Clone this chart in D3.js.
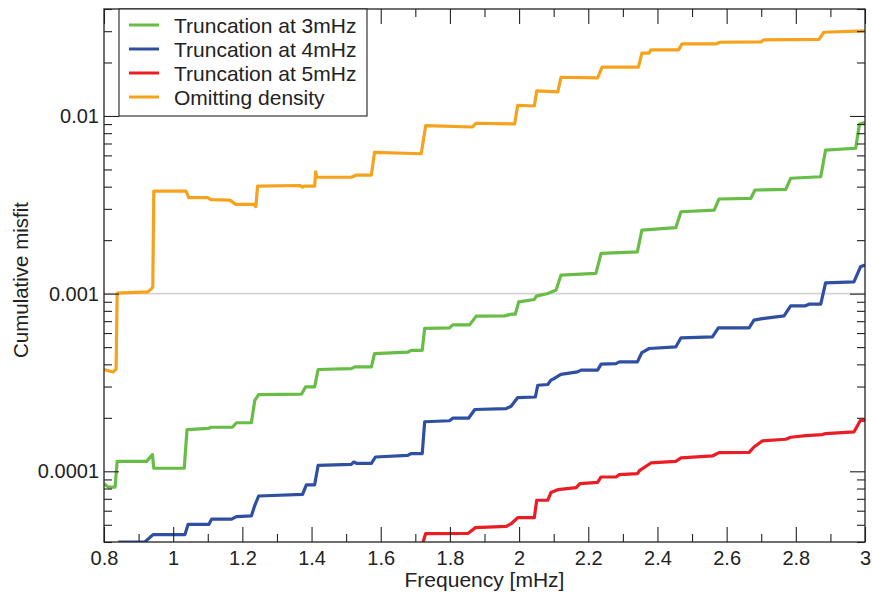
<!DOCTYPE html>
<html>
<head>
<meta charset="utf-8">
<script src="https://cdn.jsdelivr.net/npm/d3@7"></script>
<style>
  body { margin: 0; background: #fff; }
  svg { display: block; font-family: "Liberation Sans", Arial, Helvetica, sans-serif; }
</style>
</head>
<body>
<script>
// [frequency (mHz), cumulative misfit]
const trunc3mHz = [
  [0.800, 8.52e-5], [0.812, 8.15e-5], [0.832, 8.15e-5], [0.838, 1.138e-4], [0.923, 1.138e-4],
  [0.940, 1.242e-4], [0.944, 1.04e-4], [1.032, 1.04e-4], [1.040, 1.718e-4], [1.103, 1.746e-4],
  [1.109, 1.77e-4], [1.171, 1.77e-4], [1.183, 1.876e-4], [1.226, 1.876e-4], [1.236, 2.51e-4],
  [1.247, 2.70e-4], [1.371, 2.72e-4], [1.383, 2.99e-4], [1.409, 2.99e-4], [1.419, 3.74e-4],
  [1.515, 3.78e-4], [1.525, 3.87e-4], [1.573, 3.87e-4], [1.582, 4.60e-4], [1.678, 4.68e-4],
  [1.688, 4.79e-4], [1.720, 4.79e-4], [1.727, 6.37e-4], [1.799, 6.42e-4], [1.808, 6.67e-4],
  [1.857, 6.67e-4], [1.876, 7.47e-4], [1.958, 7.50e-4], [1.977, 7.66e-4], [1.989, 7.66e-4],
  [1.999, 8.99e-4], [2.044, 9.27e-4], [2.050, 9.68e-4], [2.083, 1.0025e-3], [2.107, 1.047e-3],
  [2.121, 1.271e-3], [2.222, 1.299e-3], [2.237, 1.684e-3], [2.342, 1.72e-3], [2.355, 2.28e-3],
  [2.453, 2.35e-3], [2.468, 2.89e-3], [2.564, 2.95e-3], [2.578, 3.41e-3], [2.670, 3.44e-3],
  [2.682, 3.83e-3], [2.771, 3.86e-3], [2.785, 4.46e-3], [2.872, 4.55e-3], [2.886, 6.43e-3],
  [2.973, 6.58e-3], [2.984, 9.01e-3], [3.000, 9.17e-3]
];

const trunc4mHz = [
  [0.841, 4.0e-5], [0.918, 4.0e-5], [0.933, 4.25e-5], [0.942, 4.40e-5], [1.034, 4.40e-5],
  [1.043, 5.02e-5], [1.103, 5.02e-5], [1.111, 5.38e-5], [1.169, 5.38e-5], [1.183, 5.56e-5],
  [1.226, 5.61e-5], [1.236, 6.43e-5], [1.247, 7.26e-5], [1.374, 7.42e-5], [1.385, 8.39e-5],
  [1.409, 8.39e-5], [1.419, 1.081e-4], [1.515, 1.095e-4], [1.522, 1.128e-4], [1.530, 1.109e-4],
  [1.573, 1.109e-4], [1.585, 1.204e-4], [1.678, 1.23e-4], [1.688, 1.259e-4], [1.720, 1.259e-4],
  [1.727, 1.90e-4], [1.799, 1.925e-4], [1.808, 1.99e-4], [1.854, 1.99e-4], [1.872, 2.227e-4],
  [1.963, 2.255e-4], [1.977, 2.323e-4], [1.996, 2.60e-4], [2.047, 2.62e-4], [2.054, 3.05e-4],
  [2.083, 3.08e-4], [2.092, 3.26e-4], [2.102, 3.33e-4], [2.121, 3.51e-4], [2.169, 3.63e-4],
  [2.179, 3.71e-4], [2.227, 3.71e-4], [2.237, 4.01e-4], [2.280, 4.04e-4], [2.290, 4.13e-4],
  [2.342, 4.13e-4], [2.355, 4.66e-4], [2.376, 4.91e-4], [2.453, 5.01e-4], [2.468, 5.64e-4],
  [2.559, 5.71e-4], [2.576, 6.42e-4], [2.665, 6.42e-4], [2.679, 7.09e-4], [2.703, 7.23e-4],
  [2.766, 7.50e-4], [2.785, 8.54e-4], [2.828, 8.54e-4], [2.838, 8.72e-4], [2.872, 8.72e-4],
  [2.886, 1.150e-3], [2.968, 1.166e-3], [2.987, 1.416e-3], [3.000, 1.447e-3]
];

const trunc5mHz = [
  [1.722, 3.98e-5], [1.730, 4.46e-5], [1.852, 4.47e-5], [1.874, 4.82e-5], [1.963, 4.90e-5],
  [1.977, 5.07e-5], [1.996, 5.48e-5], [2.044, 5.48e-5], [2.051, 6.87e-5], [2.083, 6.87e-5],
  [2.092, 7.59e-5], [2.112, 7.88e-5], [2.165, 8.09e-5], [2.176, 8.52e-5], [2.227, 8.67e-5],
  [2.237, 9.29e-5], [2.280, 9.29e-5], [2.290, 9.58e-5], [2.342, 9.70e-5], [2.349, 1.013e-4],
  [2.381, 1.114e-4], [2.453, 1.138e-4], [2.468, 1.189e-4], [2.559, 1.22e-4], [2.578, 1.275e-4],
  [2.665, 1.278e-4], [2.679, 1.37e-4], [2.703, 1.482e-4], [2.771, 1.515e-4], [2.785, 1.554e-4],
  [2.829, 1.589e-4], [2.877, 1.61e-4], [2.886, 1.631e-4], [2.968, 1.665e-4], [2.987, 1.937e-4],
  [3.000, 1.937e-4]
];

const omitDensity = [
  [0.800, 3.74e-4], [0.826, 3.62e-4], [0.835, 3.76e-4], [0.838, 1.006e-3], [0.927, 1.023e-3],
  [0.936, 1.06e-3], [0.941, 1.09e-3], [0.944, 3.78e-3], [1.037, 3.78e-3], [1.045, 3.47e-3],
  [1.100, 3.47e-3], [1.109, 3.38e-3], [1.164, 3.36e-3], [1.181, 3.18e-3], [1.233, 3.18e-3],
  [1.239, 3.09e-3], [1.244, 4.03e-3], [1.366, 4.06e-3], [1.374, 3.98e-3], [1.380, 4.03e-3],
  [1.409, 4.03e-3], [1.412, 4.85e-3], [1.415, 4.52e-3], [1.515, 4.52e-3], [1.530, 4.65e-3],
  [1.573, 4.65e-3], [1.582, 6.24e-3], [1.717, 6.13e-3], [1.730, 8.82e-3], [1.865, 8.67e-3],
  [1.876, 9.10e-3], [1.987, 9.02e-3], [1.996, 1.149e-2], [2.044, 1.138e-2], [2.051, 1.383e-2],
  [2.112, 1.365e-2], [2.121, 1.652e-2], [2.227, 1.637e-2], [2.240, 1.881e-2], [2.345, 1.881e-2],
  [2.355, 2.255e-2], [2.376, 2.26e-2], [2.381, 2.355e-2], [2.461, 2.355e-2], [2.471, 2.544e-2],
  [2.569, 2.544e-2], [2.580, 2.60e-2], [2.699, 2.61e-2], [2.708, 2.68e-2], [2.867, 2.70e-2],
  [2.881, 2.96e-2], [3.000, 3.01e-2]
];

const seriesNames = ["Truncation at 3mHz", "Truncation at 4mHz", "Truncation at 5mHz", "Omitting density"];
const seriesColors = ["#67bd45", "#2f4fa2", "#ec1c24", "#f7a21c"];
const seriesData = [trunc3mHz, trunc4mHz, trunc5mHz, omitDensity];

const xTicks = [0.8, 1, 1.2, 1.4, 1.6, 1.8, 2, 2.2, 2.4, 2.6, 2.8, 3];
const xTickLabels = ["0.8", "1", "1.2", "1.4", "1.6", "1.8", "2", "2.2", "2.4", "2.6", "2.8", "3"];
const yTicks = [1e-4, 1e-3, 1e-2];
const yTickLabels = ["0.0001", "0.001", "0.01"];

const width = 872, height = 593;
const plotLeft = 104, plotRight = 865, plotTop = 9, plotBottom = 542;

const svg = d3.select("body").append("svg")
    .attr("width", width)
    .attr("height", height);

const x = d3.scaleLinear().domain([0.8, 3]).range([plotLeft, plotRight]);
const y = d3.scaleLog().domain([4e-5, 4e-2]).range([plotBottom, plotTop]);

svg.append("clipPath").attr("id", "plot-clip")
  .append("rect")
    .attr("x", plotLeft).attr("y", plotTop)
    .attr("width", plotRight - plotLeft).attr("height", plotBottom - plotTop);

// reference line at 0.001
svg.append("line")
    .attr("x1", plotLeft).attr("x2", plotRight)
    .attr("y1", y(1e-3)).attr("y2", y(1e-3))
    .attr("stroke", "#d4d4d4")
    .attr("stroke-width", 1.6);

const line = d3.line()
    .x(d => x(d[0]))
    .y(d => y(d[1]));

const plot = svg.append("g").attr("clip-path", "url(#plot-clip)");
seriesData.forEach((data, i) => {
  plot.append("path")
      .datum(data)
      .attr("fill", "none")
      .attr("stroke", seriesColors[i])
      .attr("stroke-width", 3.2)
      .attr("stroke-linejoin", "round")
      .attr("d", line);
});

// minor tick positions
const xMinor = d3.range(0.9, 3.0, 0.2);
const yMinor = y.ticks().filter(v => !yTicks.some(t => Math.abs(t - v) / t < 1e-6));

function styleAxis(g) {
  g.select(".domain").remove();
  g.selectAll("line").attr("stroke", "#222").attr("stroke-width", 1.1);
  g.selectAll("text").attr("fill", "#222").style("font-size", "20px");
}

svg.append("g")
    .attr("transform", `translate(0,${plotBottom})`)
    .call(d3.axisBottom(x).tickValues(xTicks)
      .tickFormat((d, i) => xTickLabels[i])
      .tickSizeInner(-15).tickSizeOuter(0).tickPadding(9))
    .call(styleAxis);
svg.append("g")
    .attr("transform", `translate(0,${plotBottom})`)
    .call(d3.axisBottom(x).tickValues(xMinor).tickFormat("").tickSizeInner(-8).tickSizeOuter(0))
    .call(styleAxis);
svg.append("g")
    .attr("transform", `translate(0,${plotTop})`)
    .call(d3.axisTop(x).tickValues(xTicks).tickFormat("").tickSizeInner(-15).tickSizeOuter(0))
    .call(styleAxis);
svg.append("g")
    .attr("transform", `translate(0,${plotTop})`)
    .call(d3.axisTop(x).tickValues(xMinor).tickFormat("").tickSizeInner(-8).tickSizeOuter(0))
    .call(styleAxis);

svg.append("g")
    .attr("transform", `translate(${plotLeft},0)`)
    .call(d3.axisLeft(y).tickValues(yTicks)
      .tickFormat((d, i) => yTickLabels[i])
      .tickSizeInner(-15).tickSizeOuter(0).tickPadding(5))
    .call(styleAxis);
svg.append("g")
    .attr("transform", `translate(${plotLeft},0)`)
    .call(d3.axisLeft(y).tickValues(yMinor).tickFormat("").tickSizeInner(-8).tickSizeOuter(0))
    .call(styleAxis);
svg.append("g")
    .attr("transform", `translate(${plotRight},0)`)
    .call(d3.axisRight(y).tickValues(yTicks).tickFormat("").tickSizeInner(-15).tickSizeOuter(0))
    .call(styleAxis);
svg.append("g")
    .attr("transform", `translate(${plotRight},0)`)
    .call(d3.axisRight(y).tickValues(yMinor).tickFormat("").tickSizeInner(-8).tickSizeOuter(0))
    .call(styleAxis);

// frame
svg.append("rect")
    .attr("x", plotLeft).attr("y", plotTop)
    .attr("width", plotRight - plotLeft).attr("height", plotBottom - plotTop)
    .attr("fill", "none")
    .attr("stroke", "#222")
    .attr("stroke-width", 1.3);

// axis titles
svg.append("text")
    .attr("x", (plotLeft + plotRight) / 2)
    .attr("y", 587)
    .attr("text-anchor", "middle")
    .attr("fill", "#222")
    .style("font-size", "21px")
    .text("Frequency [mHz]");

svg.append("text")
    .attr("transform", "translate(28,280) rotate(-90)")
    .attr("text-anchor", "middle")
    .attr("fill", "#222")
    .style("font-size", "20.5px")
    .text("Cumulative misfit");

// legend
const legend = svg.append("g");
legend.append("rect")
    .attr("x", 119).attr("y", plotTop)
    .attr("width", 248).attr("height", 107)
    .attr("fill", "#fff")
    .attr("stroke", "#222")
    .attr("stroke-width", 1.1);

seriesNames.forEach((name, i) => {
  const cy = 25 + i * 24;
  legend.append("line")
      .attr("x1", 129).attr("x2", 159)
      .attr("y1", cy).attr("y2", cy)
      .attr("stroke", seriesColors[i])
      .attr("stroke-width", 3);
  legend.append("text")
      .attr("x", 174).attr("y", cy)
      .attr("dy", "0.36em")
      .attr("fill", "#222")
      .style("font-size", "21px")
      .text(name);
});
</script>
</body>
</html>
